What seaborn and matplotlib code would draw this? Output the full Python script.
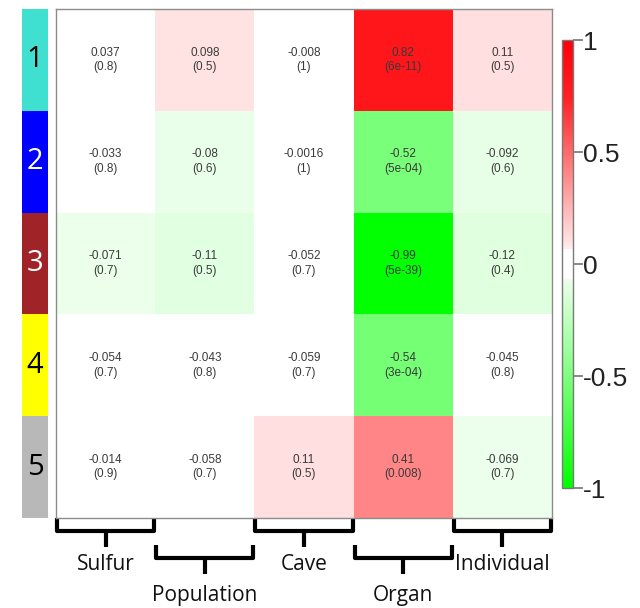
import numpy as np
import pandas as pd
import matplotlib
matplotlib.use("Agg")
import matplotlib.pyplot as plt
import seaborn as sns
from matplotlib.colors import LinearSegmentedColormap, ListedColormap
from matplotlib.transforms import blended_transform_factory

# Module / trait correlation table
traits = ["Sulfur", "Population", "Cave", "Organ", "Individual"]
modules = ["1", "2", "3", "4", "5"]
module_colors = ["#40e0d0", "#0000ff", "#a02328", "#ffff00", "#b8b8b8"]
module_text_colors = ["black", "white", "white", "black", "black"]

cor_sulfur = [0.037, -0.033, -0.071, -0.054, -0.014]
cor_population = [0.098, -0.08, -0.11, -0.043, -0.058]
cor_cave = [-0.008, -0.0016, -0.052, -0.059, 0.11]
cor_organ = [0.82, -0.52, -0.99, -0.54, 0.41]
cor_individual = [0.11, -0.092, -0.12, -0.045, -0.069]

p_sulfur = ["0.8", "0.8", "0.7", "0.7", "0.9"]
p_population = ["0.5", "0.6", "0.5", "0.8", "0.7"]
p_cave = ["1", "1", "0.7", "0.7", "0.5"]
p_organ = ["6e-11", "5e-04", "5e-39", "3e-04", "0.008"]
p_individual = ["0.5", "0.6", "0.4", "0.8", "0.7"]

cor = pd.DataFrame(
    {t: c for t, c in zip(traits, [cor_sulfur, cor_population, cor_cave,
                                   cor_organ, cor_individual])},
    index=modules)
pvals = pd.DataFrame(
    {t: p for t, p in zip(traits, [p_sulfur, p_population, p_cave,
                                   p_organ, p_individual])},
    index=modules)
labels = np.array([[f"{cor.iloc[i, j]:g}\n({pvals.iloc[i, j]})"
                    for j in range(cor.shape[1])]
                   for i in range(cor.shape[0])])

# green - white - red scale, white band around zero, deeper reds at the top
lo, hi, pale = 0.4675, 0.5325, 0.93
seg = {
    "red":   [(0, 0, 0), (lo, pale, 1), (hi, 1, 1), (1, 1, 1)],
    "green": [(0, 1, 1), (lo, 1, 1), (hi, 1, pale), (0.875, 0.12, 0.12),
              (1, 0, 0)],
    "blue":  [(0, 0, 0), (lo, pale, 1), (hi, 1, pale), (0.875, 0.13, 0.13),
              (1, 0.04, 0.04)],
}
gwr = LinearSegmentedColormap("greenWhiteRed", seg, N=512)

W, H = 640, 608
fig = plt.figure(figsize=(W / 100, H / 100), dpi=100)
fig.patch.set_facecolor("white")

ax = fig.add_axes([56 / W, 90 / H, 496 / W, 509 / H])
cax = fig.add_axes([562 / W, 120 / H, 11 / W, 448 / H])
sax = fig.add_axes([22 / W, 90 / H, 26 / W, 509 / H])

sns.heatmap(cor, ax=ax, cmap=gwr, vmin=-1, vmax=1, annot=labels, fmt="",
            annot_kws={"color": "#3a3a3a", "fontsize": 8.5,
                       "family": "Liberation Sans", "linespacing": 1.3},
            cbar_ax=cax, xticklabels=False, yticklabels=False)
for sp in ax.spines.values():
    sp.set_visible(True)
    sp.set_color("#8c8c8c")
    sp.set_linewidth(1.0)

# colour bar
cb = ax.collections[0].colorbar
cb.set_ticks([-1, -0.5, 0, 0.5, 1])
cb.set_ticklabels(["-1", "-0.5", "0", "0.5", "1"])
cb.outline.set_edgecolor("#7a7a7a")
cb.outline.set_linewidth(1.0)
cax.tick_params(axis="y", length=7, width=1.2, color="#777777", pad=0,
                labelsize=19, labelcolor="#222222")
for t in cax.get_yticklabels():
    t.set_family("Liberation Sans")

# module colour strip
strip = pd.DataFrame({"m": np.arange(len(modules))}, index=modules)
sns.heatmap(strip, ax=sax, cmap=ListedColormap(module_colors),
            cbar=False, xticklabels=False, yticklabels=False,
            vmin=-0.5, vmax=len(modules) - 0.5)
for i, (m, tc) in enumerate(zip(modules, module_text_colors)):
    sax.text(0.5, i + 0.5, m, ha="center", va="center", color=tc,
             fontsize=21, family="Open Sans")

# trait brackets below the columns
trans = blended_transform_factory(ax.transData, fig.transFigure)


def fy(px):
    return 1 - px / H


for j, name in enumerate(traits):
    if j % 2 == 0:
        top, bar, stem, ly = 518, 531, 547, 565
    else:
        top, bar, stem, ly = 545, 558, 574, 595
    x0, x1, xc = j + 0.01, j + 0.99, j + 0.5
    ax.plot([x0, x0, x1, x1], [fy(top), fy(bar), fy(bar), fy(top)],
            transform=trans, color="black", lw=3.0, clip_on=False,
            solid_joinstyle="round", solid_capstyle="butt")
    ax.plot([xc, xc], [fy(bar), fy(stem)], transform=trans, color="black",
            lw=3.0, clip_on=False, solid_capstyle="butt")
    ax.text(xc, fy(ly), name, transform=trans, ha="center", va="center",
            fontsize=15, family="Open Sans", color="#111111")

fig.savefig("out.png", dpi=100)
